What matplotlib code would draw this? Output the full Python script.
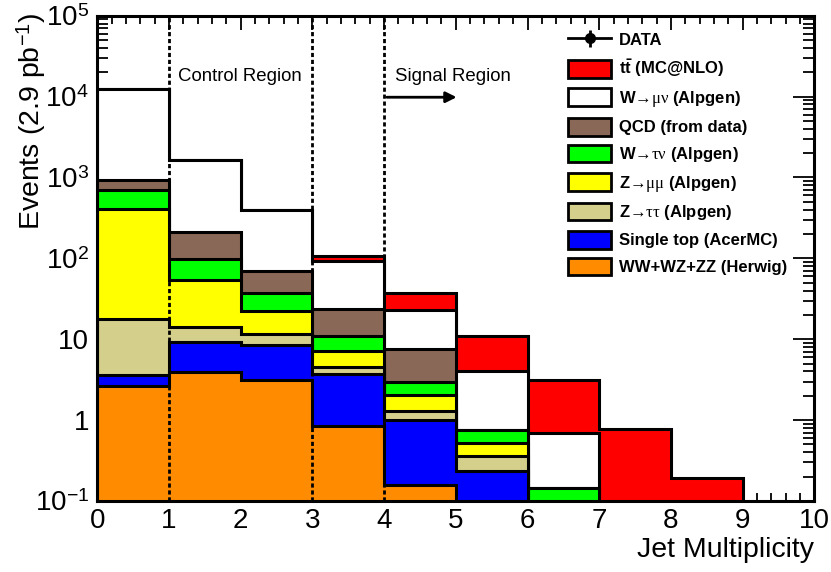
import numpy as np
import matplotlib
matplotlib.use("Agg")
from matplotlib import pyplot as plt
from matplotlib.patches import Patch, FancyArrowPatch
from matplotlib.ticker import LogLocator, FuncFormatter, NullFormatter, MultipleLocator
from matplotlib.transforms import blended_transform_factory

plt.rcParams['font.family'] = ['Liberation Sans', 'DejaVu Sans']
plt.rcParams['mathtext.fontset'] = 'custom'
plt.rcParams['mathtext.rm'] = 'Liberation Serif'
plt.rcParams['mathtext.sf'] = 'Liberation Sans'
plt.rcParams['mathtext.bf'] = 'Liberation Sans:bold'
plt.rcParams['mathtext.default'] = 'rm'

# jet multiplicity bins 0..9
edges = np.arange(0, 11)

ww    = [2.63, 3.9, 3.1, 0.84, 0.156, 0.0, 0.0, 0.0, 0.0, 0.0]
stop  = [0.97, 5.4, 5.5, 2.9, 0.86, 0.233, 0.0, 0.0, 0.0, 0.0]
ztt   = [14.3, 4.7, 3.0, 0.86, 0.29, 0.123, 0.0, 0.0, 0.0, 0.0]
zmm   = [393, 40.6, 10.8, 2.65, 0.71, 0.17, 0.0, 0.0, 0.0, 0.0]
wtn   = [294, 44.4, 15.0, 3.65, 0.92, 0.227, 0.146, 0.0, 0.0, 0.0]
qcd   = [232, 113, 33.1, 13.0, 4.66, 0.0, 0.0, 0.0, 0.0, 0.0]
wmn   = [11513, 1443, 324.5, 69.8, 15.7, 3.25, 0.55, 0.0, 0.0, 0.0]
ttbar = [0.3, 1.5, 5.0, 12.0, 14.0, 7.0, 2.4, 0.775, 0.19, 0.0]

# stacked from the bottom up
samples = [ww, stop, ztt, zmm, wtn, qcd, wmn, ttbar]
colors = ['#ff8c00', '#0000ff', '#d4cf8a', '#ffff00', '#00ff00', '#8a6857', '#ffffff', '#ff0000']
labels = ['WW+WZ+ZZ (Herwig)', 'Single top (AcerMC)', r'Z$\mathsf{→}\tau\tau$ (Alpgen)',
          r'Z$\mathsf{→}\mu\mu$ (Alpgen)', r'W$\mathsf{→}\tau\nu$ (Alpgen)', 'QCD (from data)',
          r'W$\mathsf{→}\mu\nu$ (Alpgen)', r'$\mathbf{t\bar{t}}$ (MC@NLO)']

cum = np.cumsum(np.array(samples, dtype=float), axis=0)

fig = plt.figure(figsize=(8.31, 5.72), dpi=100)
ax = fig.add_axes([97.3 / 831, 71 / 572, 717 / 831, 485.3 / 572])
ax.set_yscale('log')

# draw the stack top-down, like THStack
for i in range(len(samples) - 1, -1, -1):
    ax.stairs(cum[i], edges, baseline=1e-3, fill=True, facecolor=colors[i],
              edgecolor='black', linewidth=2.2, zorder=10 - i)

ax.set_xlim(0, 10)
ax.set_ylim(0.1, 1e5)

# region boundaries
for xv in (1, 3, 4):
    ax.axvline(xv, color='black', lw=2, linestyle=(0, (1.5, 1)), zorder=20)

tr = blended_transform_factory(ax.transData, ax.transAxes)
ax.text(1.125, 0.874, 'Control Region', transform=tr, fontsize=13.4, va='center', ha='left')
ax.text(4.15, 0.875, 'Signal Region', transform=tr, fontsize=13.4, va='center', ha='left')
ax.add_patch(FancyArrowPatch((4.0, 0.832), (5.05, 0.832), transform=tr, arrowstyle='-|>',
                             mutation_scale=16, lw=2, color='black', zorder=21))

# axes and ticks
for s in ax.spines.values():
    s.set_linewidth(2.2)
    s.set_zorder(30)
ax.xaxis.set_major_locator(MultipleLocator(1))
ax.xaxis.set_minor_locator(MultipleLocator(0.2))
ax.yaxis.set_major_locator(LogLocator(base=10, numticks=10))
ax.yaxis.set_minor_locator(LogLocator(base=10, subs=np.arange(2, 10), numticks=20))
ax.yaxis.set_minor_formatter(NullFormatter())


def ylab(v, pos):
    n = int(round(np.log10(v)))
    if n == 0:
        return '1'
    if n == 1:
        return '10'
    return '10$^{\\mathsf{%d}}$' % n


ax.yaxis.set_major_formatter(FuncFormatter(ylab))
ax.tick_params(axis='both', which='both', direction='in', top=True, right=True, zorder=31)
ax.tick_params(axis='x', which='major', length=10, width=1.3, labelsize=20, pad=5)
ax.tick_params(axis='x', which='minor', length=5.8, width=1.3)
ax.tick_params(axis='y', which='major', length=15, width=1.3, labelsize=20, pad=6)
ax.tick_params(axis='y', which='minor', length=8, width=1.3)

fig.text(31 / 831, 1 - 13 / 572, 'Events (2.9 pb$^{\\mathsf{-1}}$)', rotation=90,
         ha='center', va='top', fontsize=20.5)
fig.text(814 / 831, 1 - 556.7 / 572, 'Jet Multiplicity', ha='right', va='baseline', fontsize=20.5)

# legend
data_h = ax.errorbar([np.nan], [np.nan], yerr=[np.nan], fmt='-o', color='black', ms=7,
                     lw=2, capsize=0)
handles = [data_h]
names = ['DATA']
for i in range(len(samples) - 1, -1, -1):
    handles.append(Patch(facecolor=colors[i], edgecolor='black', linewidth=2))
    names.append(labels[i])
ax.legend(handles, names, loc='upper left', bbox_to_anchor=(568 / 831, 1 - 31 / 572),
          bbox_transform=fig.transFigure, frameon=False, borderpad=0, borderaxespad=0,
          prop=dict(weight='bold', size=12), handlelength=2.58, handleheight=1.26,
          handletextpad=0.48, labelspacing=0.54).set_zorder(40)

fig.savefig('out.png', dpi=100)
